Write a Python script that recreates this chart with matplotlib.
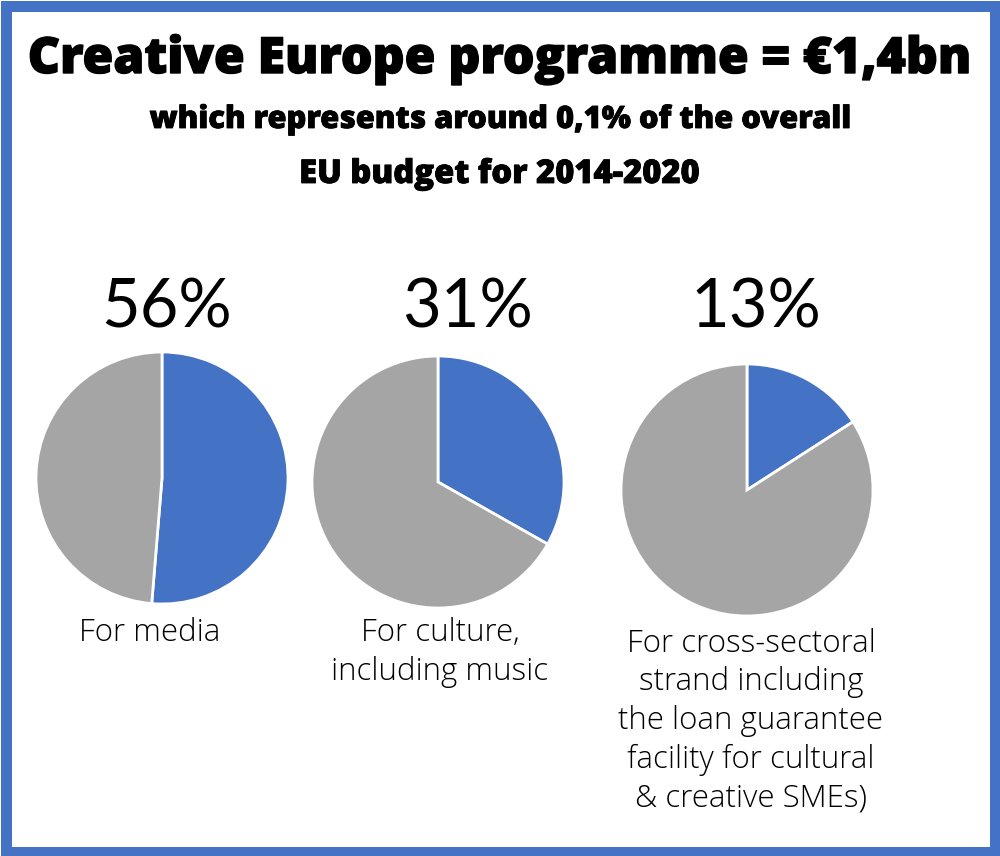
import matplotlib
matplotlib.use("Agg")
import matplotlib.pyplot as plt
from matplotlib.patches import Rectangle
import matplotlib.patheffects as pe

# ---- data ----
pct_labels = ["56%", "31%", "13%"]
blue_share = [51.3, 33.2, 15.9]          # blue slice size as drawn (percent of pie)
categories = ["For media",
              "For culture,\nincluding music",
              "For cross-sectoral\nstrand including\nthe loan guarantee\nfacility for cultural\n& creative SMEs)"]
title = "Creative Europe programme = €1,4bn"
subtitle = ["which represents around 0,1% of the overall", "EU budget for 2014-2020"]

BLUE = "#4472C4"
GREY = "#A5A5A5"

W, H = 1000, 856
fig = plt.figure(figsize=(W / 100, H / 100), dpi=100)
fig.patch.set_facecolor("white")

def fx(x): return x / W
def fy(y): return 1 - y / H

# border
fig.patches.append(Rectangle((fx(5.5), fy(851.5)), fx(995) - fx(5.5), fy(5.5) - fy(851.5),
                             transform=fig.transFigure, fill=False,
                             edgecolor=BLUE, linewidth=11 * 0.72))

renderer = fig.canvas.get_renderer()

def fit_text(x, y, s, target_w, stroke, **kw):
    t = fig.text(fx(x), fy(y), s, ha="center", va="baseline", **kw)
    w = t.get_window_extent(renderer).width
    t.set_fontsize(t.get_fontsize() * target_w / w)
    if stroke:
        t.set_path_effects([pe.withStroke(linewidth=stroke, foreground="black")])
    return t

fit_text(500, 73, title, 942, 1.0, family="Open Sans", fontweight="heavy", fontsize=40)
fit_text(500, 128, subtitle[0], 702, 0.6, family="Open Sans", fontweight="heavy", fontsize=20)
fit_text(499, 183, subtitle[1], 401, 0.6, family="Open Sans", fontweight="heavy", fontsize=20)

centers = [(162, 478), (438, 482), (747, 490)]
R = 126
pct_x = [167, 467, 756]
label_x = [150, 440, 751]
label_base = [641, 641, 652]
line_gap = 38.5

for i, (cx, cy) in enumerate(centers):
    ax = fig.add_axes([fx(cx - R), fy(cy + R), 2 * R / W, 2 * R / H])
    ax.pie([blue_share[i], 100 - blue_share[i]], colors=[BLUE, GREY], startangle=90,
           counterclock=False, radius=1,
           wedgeprops=dict(edgecolor="white", linewidth=2))
    ax.set_xlim(-1, 1)
    ax.set_ylim(-1, 1)
    ax.set_aspect("auto")
    ax.axis("off")
    fig.text(fx(pct_x[i]), fy(327), pct_labels[i], ha="center", va="baseline",
             family="Lato", fontweight="normal", fontsize=48, color="black")
    for j, line in enumerate(categories[i].split("\n")):
        fig.text(fx(label_x[i]), fy(label_base[i] + j * line_gap), line, ha="center",
                 va="baseline", family="Open Sans", fontweight="light", fontsize=22.5,
                 color="black")

fig.savefig("out.png", dpi=100, facecolor="white")
